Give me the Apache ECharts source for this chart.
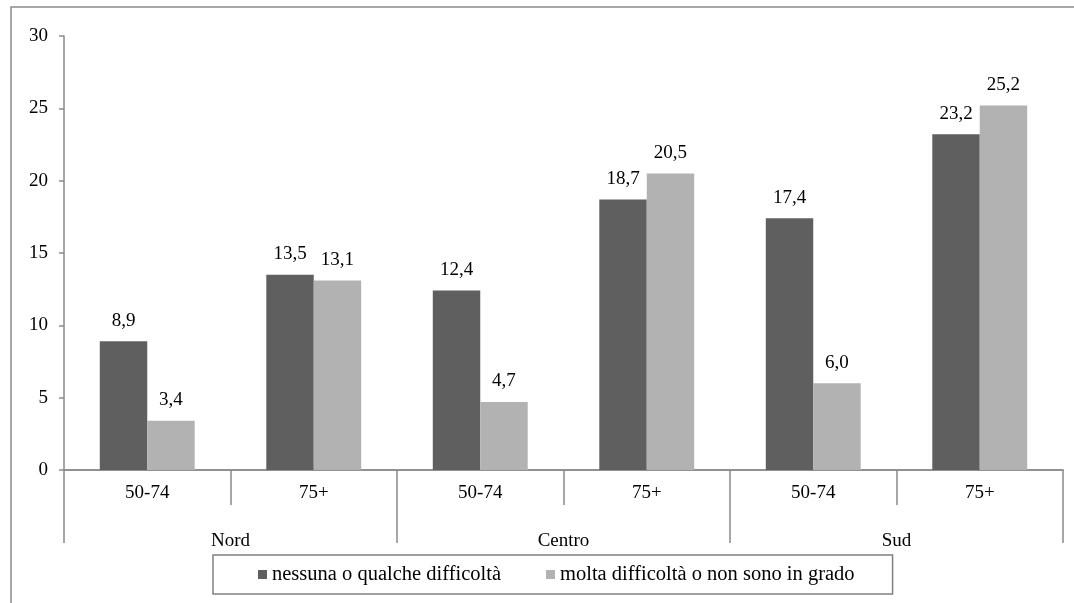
<!DOCTYPE html>
<html><head><meta charset="utf-8">
<script src="https://cdn.jsdelivr.net/npm/echarts@6/dist/echarts.min.js"></script>
<style>html,body{margin:0;padding:0;background:#fff}#c{width:1074px;height:603px}</style>
</head><body><div id="c"></div>
<script>
const ageGroups = ['50-74','75+','50-74','75+','50-74','75+'];
const regions = ['Nord','Centro','Sud'];
const seriesNames = ['nessuna o qualche difficoltà','molta difficoltà o non sono in grado'];
const valuesNessuna = [8.9, 13.5, 12.4, 18.7, 17.4, 23.2];
const valuesMolta = [3.4, 13.1, 4.7, 20.5, 6.0, 25.2];
const yTicks = [0, 5, 10, 15, 20, 25, 30];

const font = 'Liberation Serif';
const axisGray = '#8a8a8a';
const fs = 19;
const legendFs = 20.5;
const fmt = p => p.value.toFixed(1).replace('.', ',');

const chart = echarts.init(document.getElementById('c'));
chart.setOption({
  animation: false,
  backgroundColor: '#fff',
  textStyle: { fontFamily: font },
  grid: { left: 64, right: 11, top: 36, bottom: 133 },
  graphic: [{
    type: 'rect', shape: { x: 11, y: 7, width: 1100, height: 700 },
    style: { fill: 'none', stroke: '#8c8c8c', lineWidth: 1.5 }, silent: true, z: -1
  }],
  legend: {
    bottom: 9, left: 213,
    padding: [9, 38, 9, 45],
    borderColor: '#808080', borderWidth: 1.5,
    itemWidth: 9, itemHeight: 9, itemGap: 45,
    icon: 'rect',
    textStyle: { fontFamily: font, fontSize: legendFs, color: '#000' },
    data: seriesNames
  },
  xAxis: [{
    type: 'category', data: ageGroups, position: 'bottom',
    axisLine: { lineStyle: { color: axisGray, width: 1.5 } },
    axisTick: { show: true, interval: 0, length: 35, lineStyle: { color: axisGray, width: 1.5 } },
    axisLabel: { interval: 0, margin: 14, fontFamily: font, fontSize: fs, color: '#000' }
  }, {
    type: 'category', data: regions, position: 'bottom',
    axisLine: { show: true, lineStyle: { color: axisGray, width: 1.5 } },
    axisTick: { show: true, interval: 0, length: 73, lineStyle: { color: axisGray, width: 1.5 } },
    axisLabel: { interval: 0, margin: 62, fontFamily: font, fontSize: fs, color: '#000' }
  }],
  yAxis: {
    type: 'value', min: 0, max: 30, interval: 5,
    splitLine: { show: false },
    axisLine: { show: true, lineStyle: { color: axisGray, width: 1.5 } },
    axisTick: { show: true, length: 5, lineStyle: { color: axisGray, width: 1.5 } },
    axisLabel: { margin: 16, fontFamily: font, fontSize: fs, color: '#000' }
  },
  series: [{
    name: seriesNames[0], type: 'bar', xAxisIndex: 0, data: valuesNessuna,
    itemStyle: { color: '#5f5f5f' }, barGap: '0%', barCategoryGap: '43%',
    label: { show: true, position: 'top', distance: 11, formatter: fmt, fontFamily: font, fontSize: fs, color: '#000' }
  }, {
    name: seriesNames[1], type: 'bar', xAxisIndex: 0, data: valuesMolta,
    itemStyle: { color: '#b2b2b2' }, barGap: '0%', barCategoryGap: '43%',
    label: { show: true, position: 'top', distance: 11, formatter: fmt, fontFamily: font, fontSize: fs, color: '#000' }
  }]
});
</script></body></html>
